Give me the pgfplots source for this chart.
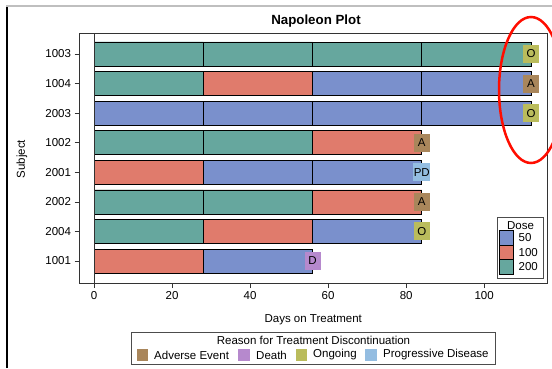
\documentclass[border=0pt]{standalone}
\usepackage{pgfplots}
\pgfplotsset{compat=1.18}
\usepackage{fontspec}
\setmainfont{Liberation Sans}
\definecolor{dA}{RGB}{122,144,204}   % 50
\definecolor{dB}{RGB}{224,123,108}   % 100
\definecolor{dC}{RGB}{102,167,158}   % 200
\definecolor{rAE}{RGB}{169,134,91}
\definecolor{rDE}{RGB}{182,137,205}
\definecolor{rON}{RGB}{186,188,92}
\definecolor{rPD}{RGB}{148,189,225}
\newcommand{\fs}{\fontsize{11.5}{13}\selectfont}
\begin{document}
\begin{tikzpicture}
\path[use as bounding box] (0pt,0pt) rectangle (552pt,368pt);
\clip (0pt,0pt) rectangle (552pt,368pt);
\draw[black, line width=2pt] (6.5pt,0pt) -- (6.5pt,362pt);
\draw[black!25, line width=1.2pt] (6pt,362pt) -- (552pt,362pt);
\node[font=\fontsize{13.3}{15}\selectfont\bfseries] at (316pt,347.3pt) {Napoleon Plot};
\node[font=\fs, rotate=90] at (22pt,209pt) {Subject};
\begin{axis}[at={(79.5pt,85pt)}, anchor=south west, width=467.5pt, height=250pt, scale only axis,
  xmin=-3.72, xmax=116.1, ymin=0.256, ymax=8.71,
  ytick={1,...,8}, yticklabels={1001,2004,2002,2001,1002,2003,1004,1003},
  xtick={0,20,...,100},
  tick align=outside, major tick length=5pt, xtick pos=bottom, ytick pos=left,
  tick style={black!80, line width=0.6pt},
  axis line style={black!80, line width=0.8pt},
  ticklabel style={font=\fs},
  /pgf/number format/assume math mode=true,
  xlabel={Days on Treatment},
  every axis x label/.style={at={(axis description cs:0.5,0)}, anchor=center, yshift=-37pt, font=\fs},
  clip=false]
% layer 4 (days 84-112)
\addplot[xbar, bar width=24pt, bar shift=0pt, fill=dC, draw=black, line width=0.7pt, forget plot] coordinates {(112,8)};
\addplot[xbar, bar width=24pt, bar shift=0pt, fill=dA, draw=black, line width=0.7pt, forget plot] coordinates {(112,7) (112,6)};
% layer 3 (days 56-84)
\addplot[xbar, bar width=24pt, bar shift=0pt, fill=dC, draw=black, line width=0.7pt, forget plot] coordinates {(84,8)};
\addplot[xbar, bar width=24pt, bar shift=0pt, fill=dA, draw=black, line width=0.7pt, forget plot] coordinates {(84,7) (84,6) (84,4) (84,2)};
\addplot[xbar, bar width=24pt, bar shift=0pt, fill=dB, draw=black, line width=0.7pt, forget plot] coordinates {(84,5) (84,3)};
% layer 2 (days 28-56)
\addplot[xbar, bar width=24pt, bar shift=0pt, fill=dC, draw=black, line width=0.7pt, forget plot] coordinates {(56,8) (56,5) (56,3)};
\addplot[xbar, bar width=24pt, bar shift=0pt, fill=dB, draw=black, line width=0.7pt, forget plot] coordinates {(56,7) (56,2)};
\addplot[xbar, bar width=24pt, bar shift=0pt, fill=dA, draw=black, line width=0.7pt, forget plot] coordinates {(56,6) (56,4) (56,1)};
% layer 1 (days 0-28)
\addplot[xbar, bar width=24pt, bar shift=0pt, fill=dC, draw=black, line width=0.7pt, forget plot] coordinates {(28,8) (28,7) (28,5) (28,3) (28,2)};
\addplot[xbar, bar width=24pt, bar shift=0pt, fill=dA, draw=black, line width=0.7pt, forget plot] coordinates {(28,6)};
\addplot[xbar, bar width=24pt, bar shift=0pt, fill=dB, draw=black, line width=0.7pt, forget plot] coordinates {(28,4) (28,1)};
% reference line at 0
\addplot[black!80, line width=0.8pt, forget plot] coordinates {(0,0.256) (0,8.71)};
% discontinuation reasons
\addplot[draw=none, no markers, nodes near coords, point meta=explicit symbolic,
  every node near coord/.append style={anchor=center, fill=rAE, inner sep=0.5pt, minimum width=16pt, minimum height=18pt, font=\fs}]
  coordinates {(112,7)[A] (84,5)[A] (84,3)[A]};
\addplot[draw=none, no markers, nodes near coords, point meta=explicit symbolic,
  every node near coord/.append style={anchor=center, fill=rON, inner sep=0.5pt, minimum width=16pt, minimum height=18pt, font=\fs}]
  coordinates {(112,8)[O] (112,6)[O] (84,2)[O]};
\addplot[draw=none, no markers, nodes near coords, point meta=explicit symbolic,
  every node near coord/.append style={anchor=center, fill=rPD, inner sep=0.5pt, minimum width=16pt, minimum height=18pt, font=\fs}]
  coordinates {(84,4)[PD]};
\addplot[draw=none, no markers, nodes near coords, point meta=explicit symbolic,
  every node near coord/.append style={anchor=center, fill=rDE, inner sep=0.5pt, minimum width=16pt, minimum height=18pt, font=\fs}]
  coordinates {(56,1)[D]};
\end{axis}
% Dose legend
\draw[black!70, fill=white, line width=0.6pt] (497.3pt,90pt) rectangle (543.3pt,150.7pt);
\node[font=\fs] at (520.5pt,142.3pt) {Dose};
\draw[black, line width=0.8pt, fill=dA] (499.8pt,122.8pt) rectangle (513.3pt,137.3pt);
\draw[black, line width=0.8pt, fill=dB] (499.8pt,108.3pt) rectangle (513.3pt,122.8pt);
\draw[black, line width=0.8pt, fill=dC] (499.8pt,93.8pt) rectangle (513.3pt,108.3pt);
\node[font=\fs, anchor=west, inner sep=0pt] at (518.5pt,130pt) {50};
\node[font=\fs, anchor=west, inner sep=0pt] at (518.5pt,115.5pt) {100};
\node[font=\fs, anchor=west, inner sep=0pt] at (518.5pt,101pt) {200};
% Reason legend
\draw[black!70, line width=0.6pt] (131.5pt,4pt) rectangle (495.5pt,36pt);
\node[font=\fs] at (313.5pt,27.5pt) {Reason for Treatment Discontinuation};
\fill[rAE] (136.7pt,7pt) rectangle (148pt,19pt);
\node[font=\fs, anchor=west, inner sep=0pt] at (154pt,13pt) {Adverse Event};
\fill[rDE] (238.3pt,7pt) rectangle (250pt,19pt);
\node[font=\fs, anchor=west, inner sep=0pt] at (256pt,13pt) {Death};
\fill[rON] (295.7pt,7pt) rectangle (307pt,19pt);
\node[font=\fs, anchor=west, inner sep=0pt] at (313pt,13pt) {Ongoing};
\fill[rPD] (365pt,7pt) rectangle (377pt,19pt);
\node[font=\fs, anchor=west, inner sep=0pt] at (383pt,13pt) {Progressive Disease};
% annotation ellipse
\draw[red!90!orange, line width=2.5pt] (531pt,278pt) ellipse [x radius=32pt, y radius=73pt];
\end{tikzpicture}
\end{document}
